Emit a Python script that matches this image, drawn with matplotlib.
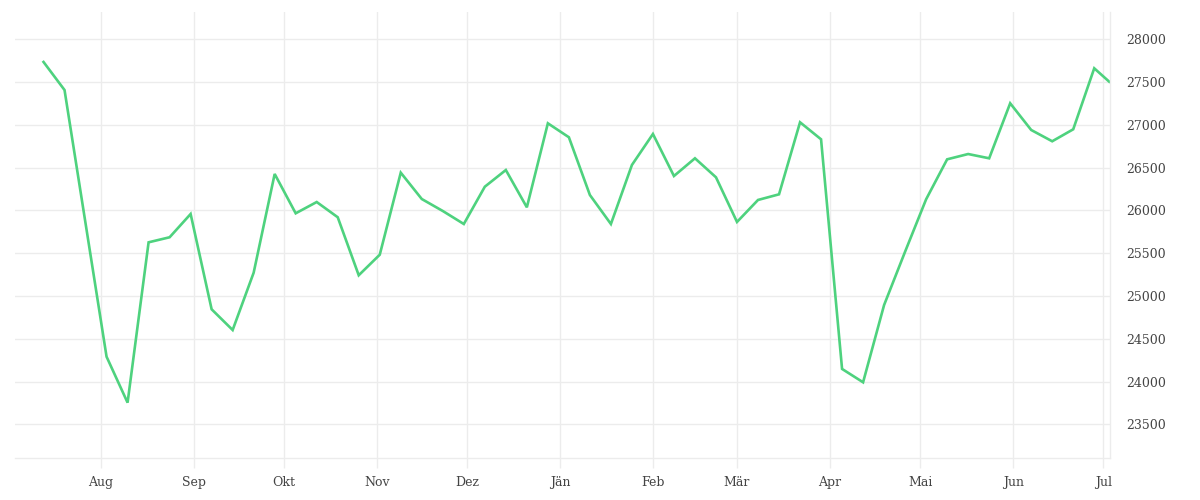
import matplotlib
matplotlib.use('Agg')
import matplotlib.pyplot as plt
import pandas as pd

# weekly values, Jul 2018 - Jul 2019 (the Jul 27 week has no own point in the chart)
week_dates = list(pd.date_range('2018-07-13', periods=51, freq='7D').drop(pd.Timestamp('2018-07-27')))
week_dates.append(pd.Timestamp('2019-07-03'))
values = [
    27735, 27407, 24290, 23753, 25627, 25686, 25958, 24844, 24602, 25272,
    26426, 25966, 26098, 25920, 25242, 25482, 26441,
    26133, 25993, 25841, 26277, 26472, 26036, 27018, 26855, 26180, 25841,
    26531, 26893, 26402, 26609, 26387, 25865, 26122, 26188, 27030,
    26831, 24147, 23991, 24894, 25518, 26130, 26597, 26659, 26609, 27252,
    26940, 26808, 26948, 27661, 27504,
]
month_starts = pd.date_range('2018-08-01', periods=12, freq='MS')
month_labels = ['Aug', 'Sep', 'Okt', 'Nov', 'Dez', 'Jän', 'Feb', 'Mär', 'Apr', 'Mai', 'Jun', 'Jul']
y_ticks = [23500, 24000, 24500, 25000, 25500, 26000, 26500, 27000, 27500, 28000]

grid_col = '#ececec'
text_col = '#444444'

fig = plt.figure(figsize=(12, 5), dpi=100)
ax = fig.add_axes([0.0125, 0.084, 0.9125, 0.892])

ax.plot(week_dates, values, color='#4ed27e', linewidth=1.9, solid_joinstyle='miter')

ax.set_xlim(pd.Timestamp('2018-07-03 12:00'), pd.Timestamp('2019-07-03 06:00'))
ax.set_ylim(23106, 28319)

ax.set_xticks(month_starts)
ax.set_xticklabels(month_labels, family='DejaVu Serif', fontsize=9, color=text_col)
ax.set_yticks(y_ticks)
ax.set_yticklabels([str(v) for v in y_ticks], family='DejaVu Serif', fontsize=9, color=text_col)

ax.yaxis.tick_right()
ax.tick_params(axis='y', length=0, pad=12)
ax.tick_params(axis='x', length=7, width=1, color=grid_col, pad=6)

ax.grid(True, color=grid_col, linewidth=1)
ax.set_axisbelow(True)

for side in ['top', 'left']:
    ax.spines[side].set_visible(False)
for side in ['bottom', 'right']:
    ax.spines[side].set_color(grid_col)
    ax.spines[side].set_linewidth(1)

fig.savefig('out.png', dpi=100, facecolor='white')
